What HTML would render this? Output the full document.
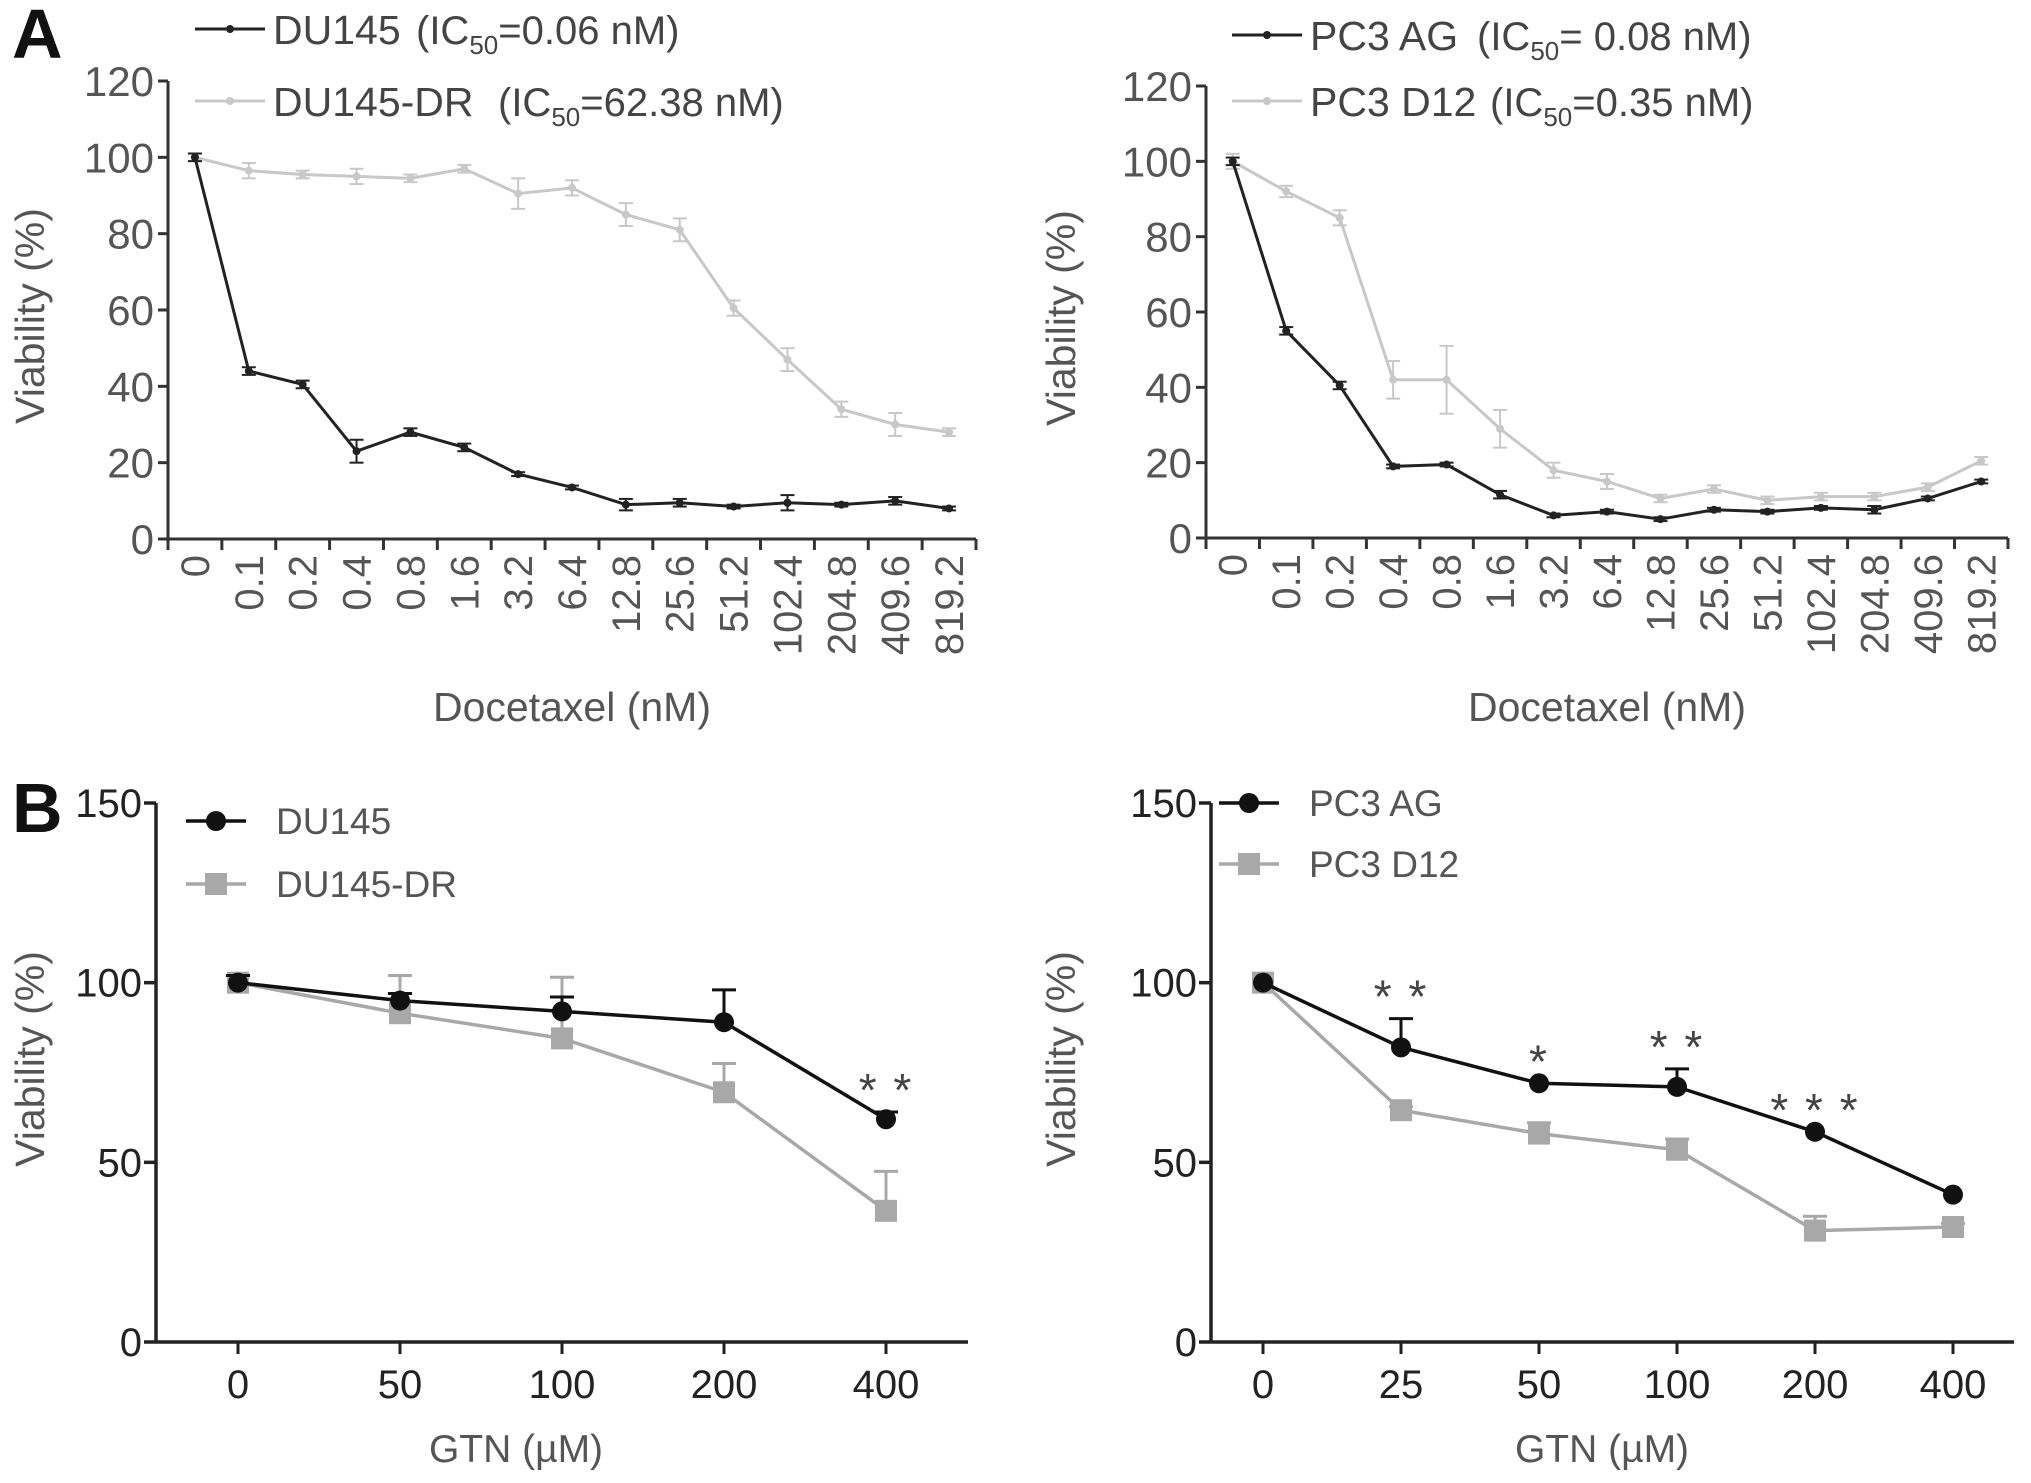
<!DOCTYPE html>
<html><head><meta charset="utf-8"><style>
html,body{margin:0;padding:0;background:#fff;}
svg{display:block;font-family:"Liberation Sans",sans-serif;}
</style></head><body>
<svg id="fig" width="2031" height="1483" viewBox="0 0 2031 1483"></svg>
<script>
// ---- data ----
const docCats = ["0","0.1","0.2","0.4","0.8","1.6","3.2","6.4","12.8","25.6","51.2","102.4","204.8","409.6","819.2"];
const du145A = [100,44,40.5,23,28,24,17,13.5,9,9.5,8.5,9.5,9,10,8];
const du145AErr = [1,1,1,3,1,1,0.5,0.5,1.5,1,0.5,2,0.5,1,0.5];
const du145drA = [100,96.5,95.5,95,94.5,97,90.5,92,85,81,60.5,47,34,30,28];
const du145drAErr = [1,2,1,2,1,1,4,2,3,3,2,3,2,3,1];
const pc3agA = [100,55,40.5,19,19.5,11.5,6,7,5,7.5,7,8,7.5,10.5,15];
const pc3agAErr = [1,1,1,0.5,0.5,1,0.5,0.5,0.5,0.5,0.5,0.5,1,0.5,0.5];
const pc3d12A = [100,92,85,42,42,29,18,15,10.5,13,10,11,11,13.5,20.5];
const pc3d12AErr = [2,1.5,2,5,9,5,2,2,1,1,1,1,1,1,1];
const yTicksA = [0,20,40,60,80,100,120];
const gtnCatsL = ["0","50","100","200","400"];
const du145B = [100,95,92,89,62];
const du145BErr = [2,2,4,9,2];
const du145drB = [100,91.5,84.5,69.5,36.5];
const du145drBErr = [2,10.5,17,8,11];
const starsL = ["","","","","**"];
const gtnCatsR = ["0","25","50","100","200","400"];
const pc3agB = [100,82,72,71,58.5,41];
const pc3agBErr = [0,8,0,5,0,0];
const pc3d12B = [100,64.5,58,53.5,31,32];
const pc3d12BErr = [0,1,3,3,4,1];
const starsR = ["","**","*","**","***",""];
const yTicksB = [0,50,100,150];

const NS="http://www.w3.org/2000/svg";
const svg=document.getElementById('fig');
function el(tag,attrs,parent){const e=document.createElementNS(NS,tag);for(const k in attrs)e.setAttribute(k,attrs[k]);(parent||svg).appendChild(e);return e;}
function txt(s,attrs,parent){const e=el('text',attrs,parent);e.textContent=s;return e;}

// ---------- Panel A ----------
function panelA(o){
  const g=el('g',{});
  
  
  const n=docCats.length;
  const step=(o.x1-o.x0)/n;
  const xs=i=>o.x0+step*(i+0.5);
  const ys=v=>o.y0-(v/120)*(o.y0-o.y120);
  const axisC='#333';
  const ya=el('line',{x1:o.x0,y1:o.y120,x2:o.x0,y2:o.y0,stroke:axisC,'stroke-width':3},g);
  
  
  yTicksA.forEach(t=>{
    el('line',{x1:o.x0-10,y1:ys(t),x2:o.x0,y2:ys(t),stroke:axisC,'stroke-width':3},g);
    const tl=txt(String(t),{x:o.x0-14,y:ys(t)+15,'font-size':42,fill:'#555','text-anchor':'end'},g);
    
    
  });
  const xa=el('line',{x1:o.x0,y1:o.y0,x2:o.x1,y2:o.y0,stroke:axisC,'stroke-width':3},g);
  
  
  for(let i=0;i<=n;i++){el('line',{x1:o.x0+step*i,y1:o.y0,x2:o.x0+step*i,y2:o.y0+11,stroke:axisC,'stroke-width':3},g);}
  docCats.forEach((c,i)=>{
    const tl=txt(c,{x:0,y:0,'font-size':40,fill:'#555','text-anchor':'end',transform:`translate(${xs(i)+14},${o.y0+16}) rotate(-90)`},g);
    
    
  });
  function series(vals,errs,col,nm){
    const pts=vals.map((v,i)=>xs(i)+','+ys(v)).join(' ');
    const pl=el('polyline',{points:pts,fill:'none',stroke:col,'stroke-width':3},g);
    
    
    vals.forEach((v,i)=>{
      const x=xs(i),e=errs[i];
      el('line',{x1:x,y1:ys(v-e),x2:x,y2:ys(v+e),stroke:col,'stroke-width':2},g);
      el('line',{x1:x-7,y1:ys(v-e),x2:x+7,y2:ys(v-e),stroke:col,'stroke-width':2},g);
      el('line',{x1:x-7,y1:ys(v+e),x2:x+7,y2:ys(v+e),stroke:col,'stroke-width':2},g);
      const m=el('circle',{cx:x,cy:ys(v),r:4,fill:col},g);
      
      
    });
  }
  series(o.s2,o.e2,'#c8c8c8',o.n2);
  series(o.s1,o.e1,'#222',o.n1);
  [[o.l1,o.l1b,'#222',o.ly1],[o.l2,o.l2b,'#c8c8c8',o.ly2]].forEach(([a,b,col,y],k)=>{
    const lg=el('g',{},g);
    
    
    el('line',{x1:o.lx,y1:y,x2:o.lx+70,y2:y,stroke:col,'stroke-width':3},lg);
    el('circle',{cx:o.lx+35,cy:y,r:4,fill:col},lg);
    txt(a,{x:o.lx+78,y:y+15,'font-size':41,fill:'#444'},lg);
    const t=el('text',{x:o.bx[k],y:y+15,'font-size':40,fill:'#444'},lg);
    t.innerHTML='(IC<tspan font-size="26" dy="10">50</tspan><tspan dy="-10">='+b+')</tspan>';
  });
  const yt=txt('Viability (%)',{x:0,y:0,'font-size':41,fill:'#555','text-anchor':'middle',transform:`translate(${o.ytx},${(o.y0+o.y120)/2+6}) rotate(-90)`},g);
  
  
  const xt=txt('Docetaxel (nM)',{x:(o.x0+o.x1)/2,y:721,'font-size':41,fill:'#555','text-anchor':'middle'},g);
  
  
}
panelA({name:'panel-a-du145',x0:168,x1:976,y0:539,y120:81,s1:du145A,e1:du145AErr,s2:du145drA,e2:du145drAErr,n1:'du145',n2:'du145-dr',
  l1:'DU145',l1b:'0.06 nM',l2:'DU145-DR',l2b:'62.38 nM',lx:195,ly1:29,ly2:101,bx:[416,498],ytx:44});
panelA({name:'panel-a-pc3',x0:1206,x1:2008,y0:538,y120:86,s1:pc3agA,e1:pc3agAErr,s2:pc3d12A,e2:pc3d12AErr,n1:'pc3-ag',n2:'pc3-d12',
  l1:'PC3 AG',l1b:' 0.08  nM',l2:'PC3 D12',l2b:'0.35 nM',lx:1232,ly1:35,ly2:101,bx:[1477,1490],ytx:1075});

// ---------- Panel B ----------
function panelB(o){
  const g=el('g',{});
  
  
  const ys=v=>o.y0-(v/150)*(o.y0-o.y150);
  const xs=i=>o.px0+(o.px1-o.px0)*i/(o.cats.length-1);
  const ya=el('line',{x1:o.x0,y1:o.y150,x2:o.x0,y2:o.y0,stroke:'#222','stroke-width':3.5},g);
  
  
  yTicksB.forEach(t=>{
    el('line',{x1:o.x0-12,y1:ys(t),x2:o.x0,y2:ys(t),stroke:'#222','stroke-width':3.5},g);
    const tl=txt(String(t),{x:o.x0-14,y:ys(t)+14,'font-size':40,fill:'#222','text-anchor':'end'},g);
    
    
  });
  const xa=el('line',{x1:o.x0,y1:o.y0,x2:o.x1,y2:o.y0,stroke:'#222','stroke-width':3.5},g);
  
  
  o.cats.forEach((c,i)=>{
    el('line',{x1:xs(i),y1:o.y0,x2:xs(i),y2:o.y0+12,stroke:'#222','stroke-width':3},g);
    const tl=txt(c,{x:xs(i),y:o.y0+56,'font-size':40,fill:'#222','text-anchor':'middle'},g);
    
    
  });
  function series(vals,errs,col,sq,nm){
    vals.forEach((v,i)=>{
      if(errs[i]>0){const x=xs(i);
        el('line',{x1:x,y1:ys(v),x2:x,y2:ys(v+errs[i]),stroke:col,'stroke-width':3},g);
        el('line',{x1:x-12,y1:ys(v+errs[i]),x2:x+12,y2:ys(v+errs[i]),stroke:col,'stroke-width':3},g);}
    });
    const pl=el('polyline',{points:vals.map((v,i)=>xs(i)+','+ys(v)).join(' '),fill:'none',stroke:col,'stroke-width':3.5},g);
    
    
    vals.forEach((v,i)=>{
      const m=sq?el('rect',{x:xs(i)-11,y:ys(v)-11,width:22,height:22,fill:col},g):el('circle',{cx:xs(i),cy:ys(v),r:10,fill:col},g);
      
      
    });
  }
  series(o.s2,o.e2,'#a8a8a8',true,o.n2);
  series(o.s1,o.e1,'#111',false,o.n1);
  o.stars.forEach((s,i)=>{
    if(!s)return;
    const v=Math.max(o.s1[i]+o.e1[i],o.s2[i]+o.e2[i]);
    const st=txt(s.split('').join(' '),{x:xs(i),y:ys(v)-6,'font-size':46,fill:'#444','text-anchor':'middle','letter-spacing':2},g);
    
    
  });
  [[o.l1,'#111',false,o.ly1],[o.l2,'#a8a8a8',true,o.ly2]].forEach(([a,col,sq,y])=>{
    const lg=el('g',{},g);
    
    
    el('line',{x1:o.lx,y1:y,x2:o.lx+60,y2:y,stroke:col,'stroke-width':3.5},lg);
    if(sq)el('rect',{x:o.lx+19,y:y-11,width:22,height:22,fill:col},lg);else el('circle',{cx:o.lx+30,cy:y,r:10,fill:col},lg);
    txt(a,{x:o.lx+90,y:y+13,'font-size':37,fill:'#555'},lg);
  });
  const yt=txt('Viability (%)',{x:0,y:0,'font-size':41,fill:'#555','text-anchor':'middle',transform:`translate(${o.ytx},1059) rotate(-90)`},g);
  
  
  const xt=txt('GTN (µM)',{x:o.xtc,y:1462,'font-size':39,fill:'#555','text-anchor':'middle'},g);
  
  
}
panelB({name:'panel-b-du145',x0:156,x1:968,px0:238,px1:886,y0:1342,y150:803,cats:gtnCatsL,s1:du145B,e1:du145BErr,s2:du145drB,e2:du145drBErr,stars:starsL,
  n1:'du145',n2:'du145-dr',l1:'DU145',l2:'DU145-DR',lx:186,ly1:821,ly2:884,ytx:44,xtc:516});
panelB({name:'panel-b-pc3',x0:1211,x1:2014,px0:1263,px1:1953,y0:1342,y150:803,cats:gtnCatsR,s1:pc3agB,e1:pc3agBErr,s2:pc3d12B,e2:pc3d12BErr,stars:starsR,
  n1:'pc3-ag',n2:'pc3-d12',l1:'PC3 AG',l2:'PC3 D12',lx:1219,ly1:803,ly2:864,ytx:1075,xtc:1602});

const A=txt('A',{x:12,y:58,'font-size':70,'font-weight':'bold',fill:'#111'});


const B=txt('B',{x:12,y:832,'font-size':70,'font-weight':'bold',fill:'#111'});


</script>
</body></html>
